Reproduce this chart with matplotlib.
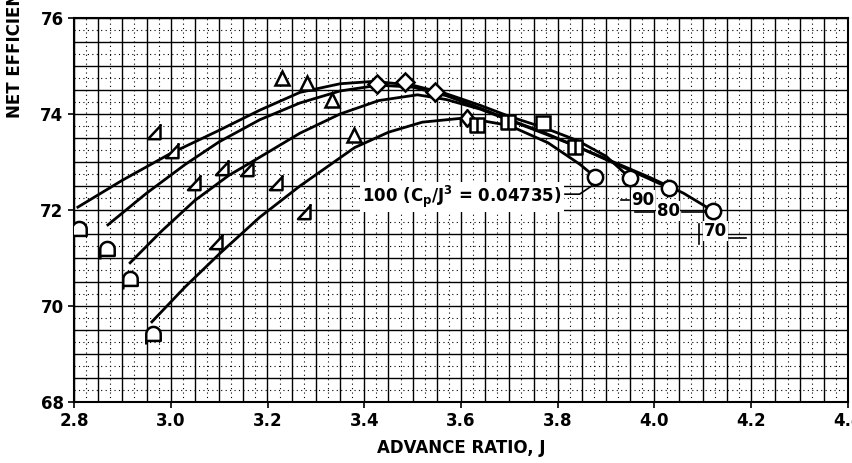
import numpy as np
import matplotlib.pyplot as plt
from matplotlib.path import Path
from matplotlib.ticker import MultipleLocator

plt.rcParams['font.family'] = ['DejaVu Sans']
plt.rcParams['font.weight'] = 'bold'

# faired curves, Cp/J^3 in percent of design
j_100 = [2.961, 3.03, 3.102, 3.184, 3.267, 3.38, 3.45, 3.52, 3.61, 3.70, 3.78, 3.846, 3.877]
e_100 = [69.67, 70.4, 71.1, 71.85, 72.5, 73.3, 73.62, 73.83, 73.92, 73.76, 73.4, 72.95, 72.69]
j_90 = [2.808, 2.90, 3.00, 3.10, 3.184, 3.267, 3.35, 3.42, 3.50, 3.57, 3.64, 3.70, 3.77, 3.84, 3.90, 3.949]
e_90 = [72.06, 72.62, 73.18, 73.66, 74.08, 74.45, 74.63, 74.68, 74.6, 74.42, 74.18, 73.95, 73.72, 73.45, 73.12, 72.67]
j_80 = [2.870, 2.95, 3.03, 3.10, 3.184, 3.267, 3.35, 3.43, 3.50, 3.57, 3.64, 3.70, 3.77, 3.84, 3.90, 3.96, 4.030]
e_80 = [71.69, 72.35, 72.95, 73.42, 73.88, 74.23, 74.48, 74.6, 74.56, 74.38, 74.12, 73.88, 73.62, 73.32, 73.05, 72.78, 72.46]
j_70 = [2.916, 2.98, 3.05, 3.12, 3.184, 3.267, 3.35, 3.43, 3.51, 3.57, 3.64, 3.70, 3.77, 3.84, 3.92, 3.99, 4.06, 4.121]
e_70 = [70.9, 71.55, 72.2, 72.72, 73.1, 73.6, 74.0, 74.28, 74.4, 74.3, 74.1, 73.87, 73.6, 73.32, 72.98, 72.68, 72.35, 71.98]

# test points by symbol
flag_circ_j = [2.810, 2.868, 2.916, 2.963]
flag_circ_e = [71.58, 71.17, 70.54, 69.40]
flag_tri_j = [2.967, 3.005, 3.050, 3.108, 3.160, 3.096, 3.219, 3.277]
flag_tri_e = [73.63, 73.23, 72.56, 72.87, 72.85, 71.33, 72.56, 71.96]
tri_j = [3.230, 3.282, 3.333, 3.379]
tri_e = [74.75, 74.65, 74.29, 73.56]
dia_j = [3.426, 3.484, 3.546]
dia_e = [74.63, 74.67, 74.46]
flag_dia_j = [3.612]
flag_dia_e = [73.92]
sq_j = [3.770]
sq_e = [73.81]
flag_sq_j = [3.633, 3.697, 3.836]
flag_sq_e = [73.77, 73.83, 73.31]
circ_j = [3.877, 3.949, 4.030, 4.121]
circ_e = [72.69, 72.67, 72.46, 71.98]

# flagged symbols: base shape plus a short tail
t = np.linspace(0, np.pi, 24)
fc_verts = [(0.8 * np.cos(a), 0.15 + 0.8 * np.sin(a)) for a in t]
fc_verts += [(-0.8, -0.6), (0.8, -0.6), (0.8, 0.15), (-0.8, -0.6), (-0.8, -1.0)]
fc_codes = [Path.MOVETO] + [Path.LINETO] * (len(t) + 2) + [Path.MOVETO, Path.LINETO]
flag_circle = Path(fc_verts, fc_codes)

flag_triangle = Path([(-0.9, -0.8), (0.6, 0.8), (0.6, -0.8), (-0.9, -0.8), (0.6, 0.8), (0.6, 1.0)],
                     [Path.MOVETO, Path.LINETO, Path.LINETO, Path.CLOSEPOLY,
                      Path.MOVETO, Path.LINETO])
flag_square = Path([(-1, -1), (1, -1), (1, 1), (-1, 1), (-1, -1), (0, -1), (0, 1)],
                   [Path.MOVETO, Path.LINETO, Path.LINETO, Path.LINETO, Path.CLOSEPOLY,
                    Path.MOVETO, Path.LINETO])
flag_diamond = Path([(0, -1), (0.8, 0), (0, 1), (-0.8, 0), (0, -1), (-0.8, 0), (-0.8, -1)],
                    [Path.MOVETO, Path.LINETO, Path.LINETO, Path.LINETO, Path.CLOSEPOLY,
                     Path.MOVETO, Path.LINETO])

fig = plt.figure(figsize=(8.52, 4.63), dpi=100)
ax = fig.add_axes([74 / 852, 1 - 402 / 463, 774 / 852, 384 / 463])

ax.set_xlim(2.8, 4.4)
ax.set_ylim(68, 76)
ax.xaxis.set_major_locator(MultipleLocator(0.2))
ax.yaxis.set_major_locator(MultipleLocator(2))

# graph paper
for xv in np.arange(2.8, 4.401, 0.05):
    ax.axvline(xv, color='black', lw=1.0, zorder=1)
for xv in np.arange(2.825, 4.4, 0.05):
    ax.axvline(xv, color='black', lw=0.8, ls=(0, (1, 3)), zorder=1)
for yv in np.arange(68, 76.01, 0.5):
    ax.axhline(yv, color='black', lw=1.0, zorder=1)
for yv in np.arange(68.25, 76, 0.5):
    ax.axhline(yv, color='black', lw=0.8, ls=(0, (1, 3)), zorder=1)

for j, e in [(j_100, e_100), (j_90, e_90), (j_80, e_80), (j_70, e_70)]:
    ax.plot(j, e, color='black', lw=2.0, zorder=3, solid_joinstyle='round')

mk = dict(color='black', mfc='white', mec='black', mew=1.8, ls='none', zorder=4)
ax.plot(flag_circ_j, flag_circ_e, marker=flag_circle, ms=13, **mk)
ax.plot(flag_tri_j, flag_tri_e, marker=flag_triangle, ms=12, **mk)
ax.plot(tri_j, tri_e, marker='^', ms=10, **mk)
ax.plot(dia_j, dia_e, marker='D', ms=9, **mk)
ax.plot(flag_dia_j, flag_dia_e, marker=flag_diamond, ms=12, **mk)
ax.plot(sq_j, sq_e, marker='s', ms=10, **mk)
ax.plot(flag_sq_j, flag_sq_e, marker=flag_square, ms=10, **mk)
ax.plot(circ_j, circ_e, marker='o', ms=11, **mk)

fs = 12
ax.text(3.395, 72.27, r'100 (C$_\mathregular{p}$/J$^\mathregular{3}$ = 0.04735)', fontsize=fs,
        ha='left', va='center', zorder=5,
        bbox=dict(facecolor='white', edgecolor='none', pad=1.5))
ax.plot([3.815, 3.845, 3.87], [72.33, 72.33, 72.5], color='black', lw=1.2, zorder=5)
ax.text(3.976, 72.21, '90', fontsize=fs, ha='center', va='center', zorder=5,
        bbox=dict(facecolor='white', edgecolor='none', pad=0.5))
ax.plot([3.93, 3.948], [72.21, 72.21], color='black', lw=1.2, zorder=5)
ax.text(4.028, 71.98, '80', fontsize=fs, ha='center', va='center', zorder=5,
        bbox=dict(facecolor='white', edgecolor='none', pad=0.5))
ax.plot([3.96, 4.0], [71.96, 71.96], color='black', lw=1.2, zorder=5)
ax.plot([4.056, 4.105], [71.96, 71.96], color='black', lw=1.2, zorder=5)
ax.text(4.126, 71.56, '70', fontsize=fs, ha='center', va='center', zorder=5,
        bbox=dict(facecolor='white', edgecolor='none', pad=0.5))
ax.plot([4.093, 4.093], [71.3, 71.7], color='black', lw=1.2, zorder=5)
ax.plot([4.155, 4.19], [71.42, 71.42], color='black', lw=1.2, zorder=5)

for s in ax.spines.values():
    s.set_linewidth(1.5)
ax.tick_params(labelsize=fs, length=4, width=1.2, direction='out')
ax.set_xticklabels([f'{v:.1f}' for v in ax.get_xticks()])
ax.set_xlabel('ADVANCE RATIO, J', fontsize=fs, fontweight='bold', labelpad=6)
fig.text(15 / 852, 1 - 118 / 463, 'NET EFFICIENCY, PERCENT', rotation=90,
         ha='center', va='bottom', fontsize=fs, fontweight='bold')

fig.savefig('out.png', dpi=100)
